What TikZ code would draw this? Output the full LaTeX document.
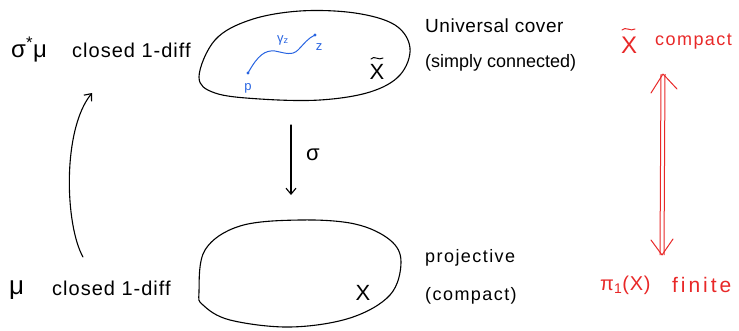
\documentclass[tikz,border=0pt]{standalone}
\usepackage{fontspec}
\setmainfont{Liberation Sans}
\usetikzlibrary{arrows.meta}
\definecolor{inkred}{RGB}{232,40,40}
\definecolor{inkblue}{RGB}{40,100,225}
\newcommand{\fsz}[2]{\fontsize{#1}{#1}\selectfont\addfontfeature{LetterSpace=#2}}
\tikzset{
  ink/.style={line width=1.1pt, line cap=round, line join=round},
  lbl/.style={inner sep=0pt, anchor=west},
  mlbl/.style={inner sep=0pt, font=\fontsize{22}{24}\selectfont},
  bluelbl/.style={inner sep=0pt, text=inkblue, font=\fontsize{13}{15}\selectfont},
  openhead/.style={-{Straight Barb[length=6pt,width=10pt]}},
  tildemark/.style={line width=1pt, line cap=round},
}
\begin{document}
\begin{tikzpicture}[x=1pt,y=-1pt]
\useasboundingbox (0,0) rectangle (739,330);
% top blob
\draw[ink] plot[smooth cycle, tension=0.6] coordinates {(199,77) (215,40) (250,20) (300,11) (355,13) (395,25) (410,48) (400,75) (370,92) (320,100) (260,99) (215,93)};
% bottom blob
\draw[ink] plot[smooth cycle, tension=0.6] coordinates {(199,292) (205,250) (240,226) (300,220) (355,224) (390,240) (401,262) (390,295) (350,318) (290,327) (230,320) (203,305)};
% blue path
\coordinate (p) at (248,73);
\coordinate (zpt) at (315,35);
\draw[inkblue, line width=1pt] (p) .. controls (258,55) and (265,50) .. (275,51) .. controls (285,53) and (292,56) .. (298,50) .. controls (304,44) and (308,38) .. (zpt);
\fill[inkblue] (p) circle (1.6pt);
\fill[inkblue] (zpt) circle (1.6pt);
\node[bluelbl] (plabel) at (248,88) {p};
\node[bluelbl] (gz) at (283,40) {γ\textsubscript{z}};
\node[bluelbl] (zlabel) at (319,47) {z};
% labels in blobs
\node[mlbl] (Xt) at (377,72) {X};
\draw[tildemark] ([shift={(-6,-13)}]Xt.center) .. controls +(3,-4) and +(-4,3) .. ([shift={(6,-14)}]Xt.center);
\node[mlbl] (X) at (363,293) {X};
% left texts
\node[lbl, font=\fsz{24}{0}] (sigmu) at (11,50) {σ\textsuperscript{*}μ};
\node[lbl, font=\fsz{20}{5}] (cl1) at (72,50) {closed 1-diff};
\node[lbl, font=\fsz{26}{0}] (mu) at (9,290) {μ};
\node[lbl, font=\fsz{20}{5}] (cl2) at (52,288) {closed 1-diff};
% right texts
\node[lbl, font=\fsz{19}{3}] (uc) at (425,26) {Universal cover};
\node[lbl, font=\fsz{18}{0}] (sc) at (425,63) {(simply connected)};
\node[lbl, font=\fsz{18}{8}] (proj) at (425,258) {projective};
\node[lbl, font=\fsz{18}{8}] (cpt) at (425,296) {(compact)};
% red texts
\node[inner sep=0pt, text=inkred, font=\fsz{24}{0}] (xt2) at (629,45) {X};
\draw[tildemark, inkred] ([shift={(-7,-15)}]xt2.center) .. controls +(3,-4) and +(-4,3) .. ([shift={(6,-16)}]xt2.center);
\node[lbl, text=inkred, font=\fsz{18}{8}] (xc) at (655,42) {compact};
\node[lbl, text=inkred, font=\fsz{20}{4}] (pi) at (600,285) {π\textsubscript{1}(X)};
\node[lbl, text=inkred, font=\fsz{21}{14}] (fin) at (672,285) {finite};
% sigma arrow
\coordinate (s1) at (291,125);
\coordinate (s2) at (291,195);
\draw[ink, openhead] (s1) -- (s2);
\node[mlbl] (sig) at (313,155) {σ};
% curved arrow
\coordinate (c1) at (83,257);
\coordinate (c2) at (92,93);
\draw[ink, openhead] (c1) .. controls (65,225) and (62,130) .. (c2);
% red double arrow
\coordinate (r1) at (663,74);
\coordinate (r2) at (662,255);
\draw[inkred, line width=1pt] ([xshift=-2pt]r1) -- ([xshift=-2pt]r2);
\draw[inkred, line width=1pt] ([xshift=2pt]r1) -- ([xshift=2pt]r2);
\draw[inkred, ink, line width=1pt] (651,93) -- (r1) -- (677,89);
\draw[inkred, ink, line width=1pt] (651,240) -- (r2) -- (673,239);
\end{tikzpicture}
\end{document}
